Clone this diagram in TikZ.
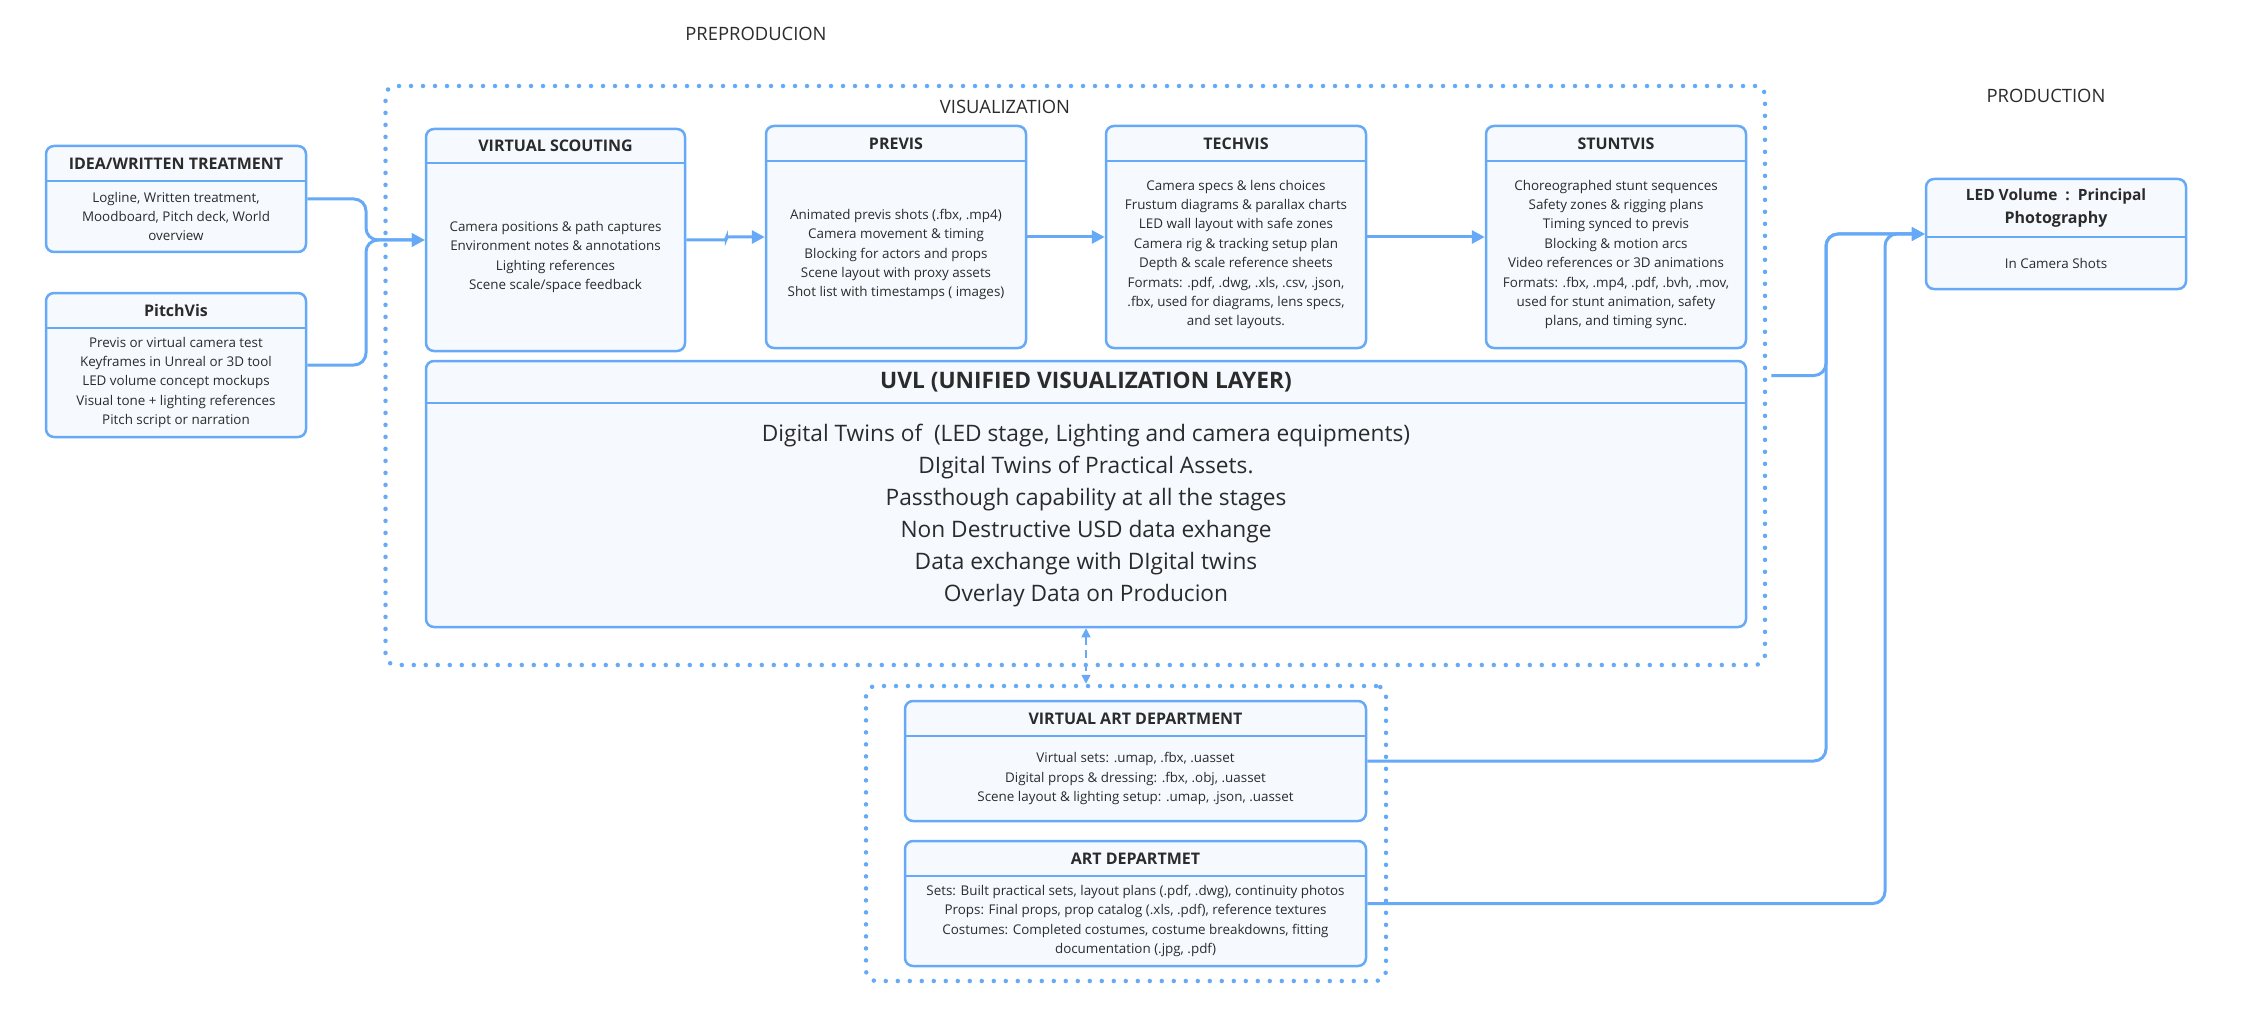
\documentclass[tikz,border=0pt]{standalone}
\usepackage{fontspec}
\setmainfont{Open Sans}
\usetikzlibrary{arrows.meta,calc}
\definecolor{bl}{HTML}{66AAF7}
\definecolor{fillc}{HTML}{F6FAFF}
\definecolor{txt}{HTML}{2B2B2B}
\tikzset{
 panelbox/.style={draw=bl, fill=fillc, line width=2.5pt, rounded corners=8pt, inner sep=0pt},
 panelline/.style={draw=bl, line width=2.5pt},
 headtext/.style={text=txt, font=\fontsize{16}{23}\selectfont\bfseries, align=center, inner sep=0pt},
 bodytext/.style={text=txt, font=\fontsize{13.4}{19.4}\selectfont, align=center, inner sep=0pt},
 conn/.style={draw=bl, line width=3pt, rounded corners=12pt, -{Triangle[length=13pt,width=13pt]}},
 dconn/.style={draw=bl, line width=1.6pt, dash pattern=on 8pt off 5pt, {Triangle[length=9pt,width=9pt]}-{Triangle[length=9pt,width=9pt]}},
 grp/.style={draw=bl, line width=4.5pt, dash pattern=on 0pt off 12pt, line cap=round, rounded corners=10pt, inner sep=0pt},
 sect/.style={text=txt, font=\fontsize{18.4}{22}\selectfont, inner sep=0pt},
}
% name, x1, y1, x2, y2, yline, header, body
\newcommand\panel[8]{%
 \node[panelbox, minimum width={#4pt-#2pt}, minimum height={#5pt-#3pt}] (#1) at ({(#2+#4)/2},{(#3+#5)/2}) {};
 \draw[panelline] (#2,#6) -- (#4,#6);
 \node[headtext] (#1-h) at ({(#2+#4)/2},{(#3+#6)/2}) {#7};
 \node[bodytext] (#1-b) at ({(#2+#4)/2},{(#6+#5)/2}) {#8};
}
\begin{document}
\begin{tikzpicture}[x=1pt,y=-1pt]
\useasboundingbox[fill=white] (0,0) rectangle (2245,1016);

% groups
\node[grp, minimum width=1379.5pt, minimum height=579pt] (visgrp) at (1075.25,375.5) {};
\node[grp, minimum width=520pt, minimum height=295pt] (artgrp) at (1126,833.5) {};

% section labels
\node[sect] (lpre) at (756,34) {PREPRODUCION};
\node[sect] (lvis) at (1005,107) {VISUALIZATION};
\node[sect] (lprod) at (2046,96) {PRODUCTION};

\panel{idea}{46}{146}{306}{252}{181}{IDEA/WRITTEN TREATMENT}{Logline, Written treatment,\\Moodboard, Pitch deck, World\\overview}
\panel{pitch}{46}{293}{306}{437}{328}{PitchVis}{Previs or virtual camera test\\Keyframes in Unreal or 3D tool\\LED volume concept mockups\\Visual tone + lighting references\\Pitch script or narration}
\panel{vs}{426}{129}{685}{351}{163}{VIRTUAL SCOUTING}{Camera positions \& path captures\\Environment notes \& annotations\\Lighting references\\Scene scale/space feedback}
\panel{previs}{766}{126}{1026}{348}{161}{PREVIS}{Animated previs shots (.fbx, .mp4)\\Camera movement \& timing\\Blocking for actors and props\\Scene layout with proxy assets\\Shot list with timestamps ( images)}
\panel{techvis}{1106}{126}{1366}{348}{161}{TECHVIS}{Camera specs \& lens choices\\Frustum diagrams \& parallax charts\\LED wall layout with safe zones\\Camera rig \& tracking setup plan\\Depth \& scale reference sheets\\Formats: .pdf, .dwg, .xls, .csv, .json,\\.fbx, used for diagrams, lens specs,\\and set layouts.}
\panel{stunt}{1486}{126}{1746}{348}{161}{STUNTVIS}{Choreographed stunt sequences\\Safety zones \& rigging plans\\Timing synced to previs\\Blocking \& motion arcs\\Video references or 3D animations\\Formats: .fbx, .mp4, .pdf, .bvh, .mov,\\used for stunt animation, safety\\plans, and timing sync.}
\panel{led}{1926}{179}{2186}{289}{237}{\fontsize{15.5}{23}\selectfont LED Volume\ \ :\ \ Principal\\Photography}{In Camera Shots}
\panel{vad}{905}{701}{1366}{821}{736}{VIRTUAL ART DEPARTMENT}{Virtual sets: .umap, .fbx, .uasset\\Digital props \& dressing: .fbx, .obj, .uasset\\Scene layout \& lighting setup: .umap, .json, .uasset}
\panel{art}{905}{841}{1366}{966}{876}{ART DEPARTMET}{Sets: Built practical sets, layout plans (.pdf, .dwg), continuity photos\\Props: Final props, prop catalog (.xls, .pdf), reference textures\\Costumes: Completed costumes, costume breakdowns, fitting\\documentation (.jpg, .pdf)}

% UVL
\node[panelbox, minimum width=1320pt, minimum height=266pt] (uvl) at (1086,494) {};
\draw[panelline] (426,403) -- (1746,403);
\node[headtext, font=\fontsize{22.7}{26}\selectfont\bfseries] (uvl-h) at (1086,382) {UVL (UNIFIED VISUALIZATION LAYER)};
\node[bodytext, font=\fontsize{22.7}{32}\selectfont] (uvl-b) at (1086,516) {Digital Twins of\ \ (LED stage, Lighting and camera equipments)\\DIgital Twins of Practical Assets.\\Passthough capability at all the stages\\Non Destructive USD data exhange\\Data exchange with DIgital twins\\Overlay Data on Producion};

% connectors
\coordinate (j1) at (366,240);
\coordinate (jA) at (1826,234);
\coordinate (jB) at (1885,234);
\draw[conn] (idea.east) -| (j1) -- (vs.west);
\draw[conn] (pitch.east) -| (j1) -- (vs.west);
\draw[conn, rounded corners=2pt] (vs.east) -- ++(40,0) |- (previs.west);
\draw[conn] (previs.east) -- (techvis.west);
\draw[conn] (techvis.east) -- (stunt.west);
\draw[conn] ([xshift=4pt]visgrp.east) -| (jA) -- (led.west);
\draw[conn] (vad.east) -| (jA) -- (led.west);
\draw[conn] (art.east) -| (jB) -- (led.west);
\draw[dconn] (uvl.south) -- (uvl.south |- artgrp.north);
\end{tikzpicture}
\end{document}
